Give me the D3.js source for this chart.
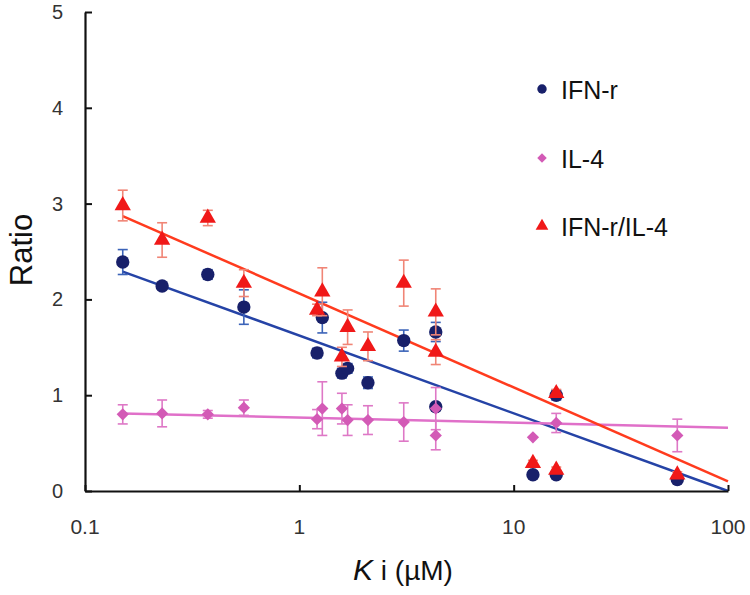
<!DOCTYPE html>
<html>
<head>
<meta charset="utf-8">
<script src="https://cdn.jsdelivr.net/npm/d3@7"></script>
<style>
  html, body { margin: 0; padding: 0; background: #fff; }
  svg { display: block; font-family: "Liberation Sans", Arial, sans-serif; }
</style>
</head>
<body>
<svg id="chart" width="750" height="595"></svg>
<script>
// ---- data ----
const seriesNames = ["IFN-r", "IL-4", "IFN-r/IL-4"];

const ifnX   = [0.15, 0.229, 0.374, 0.551, 1.21, 1.28, 1.58, 1.68, 2.09, 3.07, 4.33, 4.33, 12.3, 15.8, 15.8, 58];
const ifnY   = [2.39, 2.14, 2.26, 1.92, 1.44, 1.81, 1.23, 1.28, 1.13, 1.57, 1.66, 0.88, 0.17, 0.17, 1.00, 0.12];
const ifnErr = [0.13, 0.03, 0.05, 0.18, 0.05, 0.16, 0.05, 0.05, 0.06, 0.11, 0.10, 0.03, 0.02, 0.02, 0.05, 0.03];

const il4X   = [0.15, 0.229, 0.374, 0.551, 1.21, 1.28, 1.58, 1.68, 2.09, 3.07, 4.33, 4.33, 12.3, 15.8, 58];
const il4Y   = [0.80, 0.81, 0.80, 0.87, 0.75, 0.86, 0.86, 0.74, 0.74, 0.72, 0.86, 0.58, 0.56, 0.71, 0.58];
const il4Err = [0.10, 0.14, 0.04, 0.08, 0.10, 0.28, 0.16, 0.16, 0.15, 0.20, 0.22, 0.15, 0.00, 0.10, 0.17];

const ratioX   = [0.15, 0.229, 0.374, 0.551, 1.21, 1.28, 1.58, 1.68, 2.09, 3.07, 4.33, 4.33, 12.3, 15.8, 15.8, 58];
const ratioY   = [2.98, 2.62, 2.85, 2.17, 1.89, 2.08, 1.40, 1.71, 1.51, 2.17, 1.87, 1.45, 0.29, 1.02, 0.22, 0.17];
const ratioErr = [0.16, 0.18, 0.08, 0.14, 0.06, 0.25, 0.10, 0.18, 0.15, 0.24, 0.24, 0.13, 0.03, 0.04, 0.03, 0.03];

// trend line end points [x, y]
const ifnTrend   = [[0.15, 2.29], [100, 0.00]];
const il4Trend   = [[0.15, 0.81], [100, 0.66]];
const ratioTrend = [[0.15, 2.87], [100, 0.10]];

const xTickValues = [0.1, 1, 10, 100];
const xTickLabels = ["0.1", "1", "10", "100"];
const yTickValues = [0, 1, 2, 3, 4, 5];

// ---- drawing ----
const svg = d3.select("#chart");
const x = d3.scaleLog().domain([0.1, 100]).range([85, 728]);
const y = d3.scaleLinear().domain([0, 5]).range([491, 12]);

const styles = {
  "IFN-r":      { fill: "#18206a", line: "#2543a6", err: "#3b63b8", shape: d3.symbolCircle, size: 140, rot: 0 },
  "IL-4":       { fill: "#d35ab6", line: "#e070c9", err: "#de78c6", shape: d3.symbolSquare, size: 75, rot: 45 },
  "IFN-r/IL-4": { fill: "#f01818", line: "#ff3b1e", err: "#f08576", shape: d3.symbolTriangle, size: 115, rot: 0 }
};

const series = [
  { name: "IFN-r", xs: ifnX, ys: ifnY, es: ifnErr, trend: ifnTrend },
  { name: "IL-4", xs: il4X, ys: il4Y, es: il4Err, trend: il4Trend },
  { name: "IFN-r/IL-4", xs: ratioX, ys: ratioY, es: ratioErr, trend: ratioTrend }
];

// trend lines
const line = d3.line().x(d => x(d[0])).y(d => y(d[1]));
series.forEach(s => {
  svg.append("path").datum(s.trend)
    .attr("d", line)
    .attr("fill", "none")
    .attr("stroke", styles[s.name].line)
    .attr("stroke-width", 2.5);
});

// axes
const xAxis = d3.axisTop(x).tickValues(xTickValues).tickFormat(() => "").tickSize(6).tickSizeOuter(0);
const gx = svg.append("g").attr("transform", `translate(0,${y(0)})`).call(xAxis);
gx.select(".domain").attr("stroke", "#111").attr("stroke-width", 2.2);
gx.selectAll(".tick line").attr("stroke", "#111").attr("stroke-width", 2);

const yAxis = d3.axisRight(y).tickValues(yTickValues).tickFormat(() => "").tickSize(7).tickSizeOuter(0);
const gy = svg.append("g").attr("transform", `translate(${x(0.1)},0)`).call(yAxis);
gy.select(".domain").attr("stroke", "#111").attr("stroke-width", 2.2);
gy.selectAll(".tick line").attr("stroke", "#111").attr("stroke-width", 2);

// tick labels
svg.append("g").selectAll("text").data(xTickValues).join("text")
  .attr("x", d => x(d)).attr("y", 534)
  .attr("text-anchor", "middle")
  .attr("font-size", 21).attr("fill", "#333")
  .text((d, i) => xTickLabels[i]);

svg.append("g").selectAll("text").data(yTickValues).join("text")
  .attr("x", 63).attr("y", d => y(d) + 7)
  .attr("text-anchor", "end")
  .attr("font-size", 20).attr("fill", "#333")
  .text(d => d);

// axis titles
svg.append("text")
  .attr("transform", "translate(32,250) rotate(-90)")
  .attr("text-anchor", "middle")
  .attr("font-size", 31).attr("fill", "#111")
  .text("Ratio");

const xt = svg.append("text")
  .attr("x", 403).attr("y", 580)
  .attr("text-anchor", "middle")
  .attr("font-size", 28).attr("fill", "#111");
xt.append("tspan").attr("font-style", "italic").attr("font-size", 30).text("K");
xt.append("tspan").text(" i (µM)");

// error bars + markers
series.forEach(s => {
  const st = styles[s.name];
  const pts = s.xs.map((xv, i) => ({ x: xv, y: s.ys[i], e: s.es[i] }));
  const g = svg.append("g");
  const eb = g.append("g").attr("stroke", st.err).attr("stroke-width", 1.6);
  pts.filter(p => p.e > 0).forEach(p => {
    const cx = x(p.x), y1 = y(p.y + p.e), y2 = y(p.y - p.e);
    eb.append("line").attr("x1", cx).attr("x2", cx).attr("y1", y1).attr("y2", y2);
    eb.append("line").attr("x1", cx - 5).attr("x2", cx + 5).attr("y1", y1).attr("y2", y1);
    eb.append("line").attr("x1", cx - 5).attr("x2", cx + 5).attr("y1", y2).attr("y2", y2);
  });
  g.selectAll("path.m").data(pts).join("path")
    .attr("class", "m")
    .attr("d", d3.symbol().type(st.shape).size(st.size))
    .attr("transform", d => `translate(${x(d.x)},${y(d.y)}) rotate(${st.rot})`)
    .attr("fill", st.fill);
});

// legend
const legendY = [89, 158, 226];
const legendSize = { "IFN-r": 70, "IL-4": 45, "IFN-r/IL-4": 70 };
seriesNames.forEach((n, i) => {
  const st = styles[n];
  svg.append("path")
    .attr("d", d3.symbol().type(st.shape).size(legendSize[n]))
    .attr("transform", `translate(542,${legendY[i]}) rotate(${st.rot})`)
    .attr("fill", st.fill);
  svg.append("text")
    .attr("x", 561).attr("y", legendY[i] + 10)
    .attr("font-size", 25).attr("fill", "#111")
    .text(n);
});
</script>
</body>
</html>
